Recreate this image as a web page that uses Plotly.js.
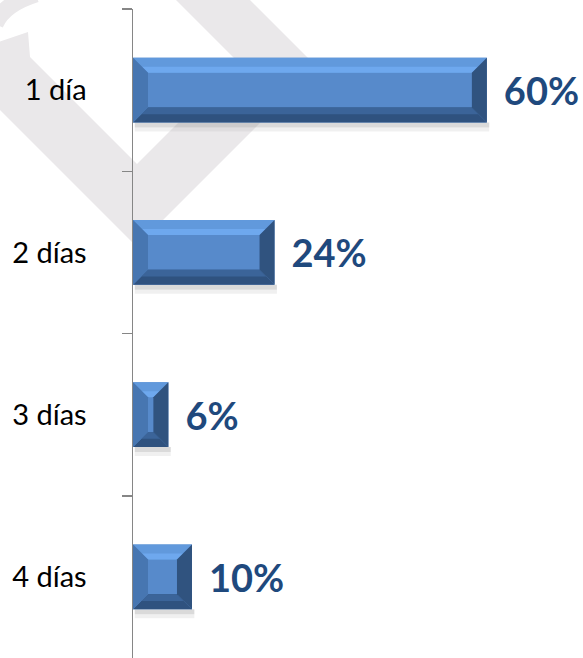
<!DOCTYPE html>
<html>
<head>
<meta charset="utf-8">
<script src="https://cdn.plot.ly/plotly-3.0.1.min.js"></script>
<style>
  html, body { margin: 0; padding: 0; background: #ffffff; }
  #chart { width: 583px; height: 658px; }
</style>
</head>
<body>
<div id="chart"></div>
<script>
// ---- data ----
var categories = ['1 día', '2 días', '3 días', '4 días'];
var values = [60, 24, 6, 10];
var valueLabels = ['60%', '24%', '6%', '10%'];

// ---- layout geometry (styling) ----
var W = 583, H = 658;
var M = {l: 133, r: 0, t: 9, b: 0};
var plotW = W - M.l - M.r, plotH = H - M.t - M.b;
var xMax = 76.3;
var barWidth = 0.4;
var pxPerX = plotW / xMax;
var pxPerCat = plotH / categories.length;
var bevelPx = 15;

function px(x) { return (x - M.l) / plotW; }
function py(y) { return (H - M.b - y) / plotH; }
function paperPath(pts) {
  return 'M ' + pts.map(function (p) { return px(p[0]) + ',' + py(p[1]); }).join(' L ') + ' Z';
}

var shapes = [];

// faint watermark behind the chart (paper coordinates)
var wmColor = '#EAE8EA';
var wmBand = [[-10, 45], [28, 32], [30, 57], [137, 164], [238.5, 62.5], [166, -10],
              [240, -10], [316.5, 66.5], [136.5, 246.5], [-10, 100]];
shapes.push({type: 'path', xref: 'paper', yref: 'paper', path: paperPath(wmBand),
  line: {width: 0}, fillcolor: wmColor, layer: 'below'});
shapes.push({type: 'path', xref: 'paper', yref: 'paper',
  path: 'M ' + px(-5) + ',' + py(24) + ' Q ' + px(4) + ',' + py(4) + ' ' + px(36) + ',' + py(-6),
  line: {color: wmColor, width: 17}, fillcolor: 'rgba(0,0,0,0)', layer: 'below'});

// bevel decoration and shadows computed from data
values.forEach(function (v, i) {
  var h = barWidth / 2;
  var iy = bevelPx / pxPerCat;
  var ix = Math.min(bevelPx / pxPerX, v / 2 - 0.4);
  var top = i - h, bot = i + h;
  function P(pts) { return 'M ' + pts.map(function (p) { return p[0] + ',' + p[1]; }).join(' L ') + ' Z'; }
  // shadow
  shapes.push({type: 'rect', xref: 'x', yref: 'y', x0: 0.3, x1: v + 0.4, y0: bot, y1: bot + 5 / pxPerCat,
    fillcolor: 'rgba(150,150,150,0.35)', line: {width: 0}, layer: 'below'});
  shapes.push({type: 'rect', xref: 'x', yref: 'y', x0: 0.3, x1: v + 0.4, y0: bot + 5 / pxPerCat, y1: bot + 9 / pxPerCat,
    fillcolor: 'rgba(180,180,180,0.2)', line: {width: 0}, layer: 'below'});
  // top bevel
  shapes.push({type: 'path', xref: 'x', yref: 'y', layer: 'above', line: {width: 0},
    fillcolor: '#6199DC', path: P([[0, top], [v, top], [v - ix, top + iy], [ix, top + iy]])});
  shapes.push({type: 'path', xref: 'x', yref: 'y', layer: 'above', line: {width: 0},
    fillcolor: '#6EA8EE', path: P([[ix * 0.6, top + iy * 0.6], [v - ix * 0.6, top + iy * 0.6], [v - ix, top + iy], [ix, top + iy]])});
  // bottom bevel
  shapes.push({type: 'path', xref: 'x', yref: 'y', layer: 'above', line: {width: 0},
    fillcolor: '#2F527F', path: P([[0, bot], [v, bot], [v - ix, bot - iy], [ix, bot - iy]])});
  shapes.push({type: 'path', xref: 'x', yref: 'y', layer: 'above', line: {width: 0},
    fillcolor: '#3B6499', path: P([[ix * 0.55, bot - iy * 0.55], [v - ix * 0.55, bot - iy * 0.55], [v - ix, bot - iy], [ix, bot - iy]])});
  // left bevel
  shapes.push({type: 'path', xref: 'x', yref: 'y', layer: 'above', line: {width: 0},
    fillcolor: '#4776B1', path: P([[0, top], [ix, top + iy], [ix, bot - iy], [0, bot]])});
  // right bevel
  shapes.push({type: 'path', xref: 'x', yref: 'y', layer: 'above', line: {width: 0},
    fillcolor: '#30537F', path: P([[v, top], [v - ix, top + iy], [v - ix, bot - iy], [v, bot]])});
});

var trace = {
  type: 'bar',
  orientation: 'h',
  y: categories,
  x: values,
  width: barWidth,
  marker: {color: '#578ACB', line: {width: 0}},
  text: valueLabels.map(function (t) { return '\u00a0\u2009' + t; }),
  textposition: 'outside',
  cliponaxis: false,
  textfont: {family: 'Lato, "Open Sans", sans-serif', size: 38, color: '#1F497D', weight: 'bold'},
  hoverinfo: 'skip'
};

var layout = {
  width: W, height: H,
  margin: M,
  paper_bgcolor: '#ffffff',
  plot_bgcolor: 'rgba(0,0,0,0)',
  showlegend: false,
  shapes: shapes,
  xaxis: {
    range: [0, xMax], visible: false, showgrid: false, zeroline: false, fixedrange: true
  },
  yaxis: {
    type: 'category',
    categoryorder: 'array', categoryarray: categories,
    autorange: 'reversed',
    showline: true, linecolor: '#868686', linewidth: 1.5,
    ticks: 'outside', tickson: 'boundaries', ticklen: 10, tickcolor: '#868686', tickwidth: 1.5,
    ticklabelstandoff: 39,
    tickfont: {family: 'Lato, "Open Sans", sans-serif', size: 29, color: '#000000'},
    showgrid: false, zeroline: false, fixedrange: true
  }
};

Plotly.newPlot('chart', [trace], layout, {staticPlot: true, displayModeBar: false});
</script>
</body>
</html>
